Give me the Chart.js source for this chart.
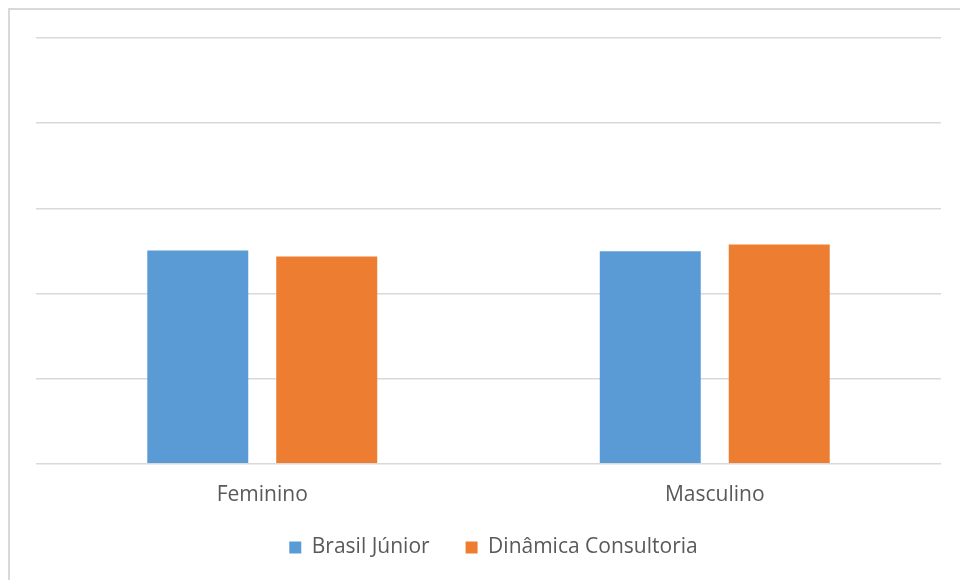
<!DOCTYPE html>
<html>
<head>
<meta charset="utf-8">
<script src="https://cdn.jsdelivr.net/npm/chart.js@4/dist/chart.umd.min.js"></script>
<style>
  html, body { margin: 0; padding: 0; background: #fff; }
  #wrap { position: relative; width: 960px; height: 580px; overflow: hidden; }
  #frame { position: absolute; left: 8px; top: 8px; width: 980px; height: 600px;
           border: 2px solid #d9d9d9; box-sizing: border-box; }
  canvas { position: absolute; left: 0; top: 0; }
</style>
</head>
<body>
<div id="wrap">
  <div id="frame"></div>
  <canvas id="myChart" width="960" height="580"></canvas>
</div>
<script>
var categories = ['Feminino', 'Masculino'];
var brasilJunior = [50.1, 49.9];
var dinamica = [48.7, 51.5];

// legend keeps wide gaps between items but takes less room above them
var legendShrink = 18;
var legendShiftX = 5;
var legendFix = {
  id: 'legendFix',
  afterInit: function(chart) {
    var fit = chart.legend.fit;
    chart.legend.fit = function() {
      fit.call(this);
      this.height -= legendShrink;
    };
  },
  afterLayout: function(chart) {
    chart.legend.top -= legendShrink;
    chart.legend.left += legendShiftX;
    chart.legend.right += legendShiftX;
  }
};

var ctx = document.getElementById('myChart').getContext('2d');
var myChart = new Chart(ctx, {
  type: 'bar',
  data: {
    labels: categories,
    datasets: [{
      label: 'Brasil Júnior',
      data: brasilJunior,
      backgroundColor: '#5b9bd5',
      categoryPercentage: 0.57,
      barPercentage: 0.783
    }, {
      label: 'Dinâmica Consultoria',
      data: dinamica,
      backgroundColor: '#ed7d31',
      categoryPercentage: 0.57,
      barPercentage: 0.783
    }]
  },
  plugins: [legendFix],
  options: {
    responsive: false,
    animation: false,
    layout: { padding: { left: 36, right: 19, top: 38, bottom: 12 } },
    plugins: {
      tooltip: { enabled: false },
      legend: {
        position: 'bottom',
        labels: {
          color: '#595959',
          font: { family: 'Open Sans', size: 21 },
          boxWidth: 12,
          boxHeight: 12,
          padding: 36
        }
      }
    },
    scales: {
      y: {
        min: 0,
        max: 100,
        ticks: { stepSize: 20, display: false },
        grid: { color: '#d9d9d9', lineWidth: 1.5, drawTicks: false },
        border: { display: false }
      },
      x: {
        grid: { display: false },
        border: { display: false },
        ticks: { color: '#595959', font: { family: 'Open Sans', size: 21 }, padding: 11 }
      }
    }
  }
});
</script>
</body>
</html>
